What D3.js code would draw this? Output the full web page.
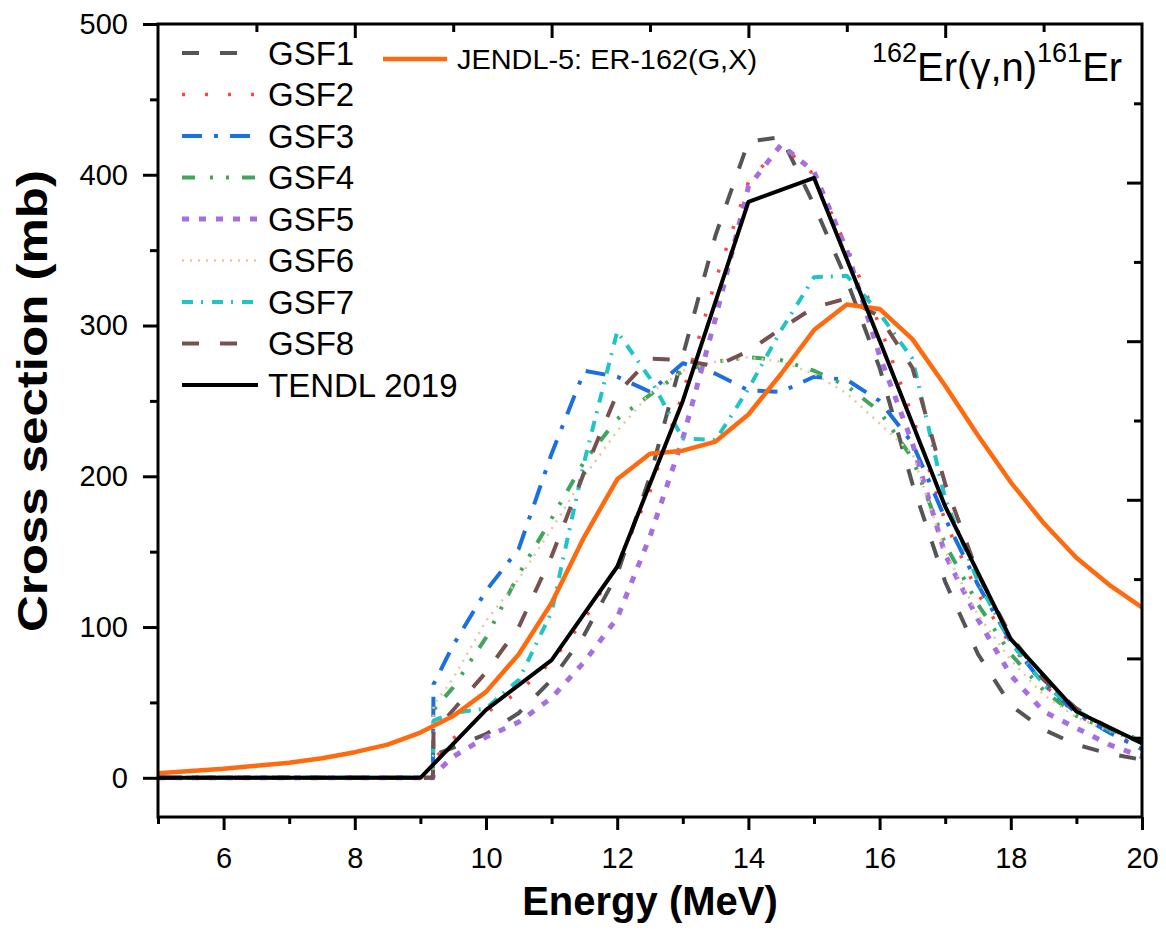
<!DOCTYPE html>
<html>
<head>
<meta charset="utf-8">
<script src="https://cdn.jsdelivr.net/npm/d3@7"></script>
<style>
  body { margin: 0; background: #fff; }
  svg { font-family: "Liberation Sans", Arial, sans-serif; }
  .axis path, .axis line { stroke: #000; stroke-width: 3; }
  .axis text { font-size: 29px; fill: #000; }
</style>
</head>
<body>
<svg id="chart" width="1166" height="930"></svg>
<script>
// energy grid shared by the GSF model curves (MeV)
var gsfE = [5, 9.19, 9.2, 9.5, 10, 10.5, 11, 11.5, 12, 12.5, 13, 13.5, 14, 14.5, 15, 15.5, 16, 16.5, 17, 17.5, 18, 18.5, 19, 19.5, 20];
var gsf1 = [0, 0, 15, 20, 29, 43, 65, 95, 135, 200, 280, 360, 422, 425, 380, 330, 272, 195, 130, 82, 48, 32, 22, 16, 12];
var gsf2 = [0, 0, 12, 26, 43, 57, 77, 105, 141, 190, 255, 330, 395, 420, 400, 352, 300, 240, 170, 122, 88, 62, 42, 30, 20];
var gsf3 = [0, 0, 62, 88, 124, 152, 215, 270, 266, 256, 275, 268, 257, 256, 266, 264, 250, 222, 172, 128, 90, 62, 43, 30, 19];
var gsf4 = [0, 0, 45, 60, 93, 135, 172, 210, 238, 254, 270, 276, 279, 277, 270, 260, 243, 212, 155, 115, 82, 58, 41, 32, 25];
var gsf5 = [0, 0, 2, 14, 27, 37, 53, 77, 106, 160, 225, 305, 392, 420, 402, 350, 280, 222, 148, 105, 68, 44, 33, 22, 14];
var gsf6 = [0, 0, 48, 66, 104, 132, 165, 200, 230, 255, 270, 276, 279, 276, 268, 255, 235, 215, 150, 108, 78, 55, 40, 31, 24];
var gsf7 = [0, 0, 38, 43, 46, 65, 110, 210, 296, 265, 225, 224, 258, 297, 332, 333, 308, 278, 185, 130, 90, 62, 45, 32, 23];
var gsf8 = [0, 0, 30, 45, 70, 100, 147, 203, 255, 278, 277, 273, 283, 298, 312, 318, 306, 272, 195, 135, 94, 65, 46, 33, 24];

var tendlE = [5, 9, 10, 11, 12, 13, 14, 15, 16, 17, 18, 19, 20];
var tendl = [0, 0, 45, 78, 140, 250, 382, 398, 290, 180, 92, 44, 23];

var jendlE = [5, 5.5, 6, 6.5, 7, 7.5, 8, 8.5, 9, 9.5, 10, 10.5, 11, 11.5, 12, 12.5, 13, 13.5, 14, 14.5, 15, 15.5, 16, 16.5, 17, 17.5, 18, 18.5, 19, 19.5, 20];
var jendl = [3, 4.5, 6, 8, 10, 13, 17, 22, 30, 41, 57, 82, 116, 160, 198, 215, 217, 223, 241, 268, 297, 314, 311, 291, 260, 227, 196, 169, 146, 128, 113];

var gsfNames = ["GSF1", "GSF2", "GSF3", "GSF4", "GSF5", "GSF6", "GSF7", "GSF8"];
var xTicks = [6, 8, 10, 12, 14, 16, 18, 20];
var yTicks = [0, 100, 200, 300, 400, 500];

// line styles (colour, width, dash) - kept apart from the data
var styles = {
  GSF1: {c: "#555555", w: 4, d: "17,21"},
  GSF2: {c: "#ff4242", w: 3.5, d: "3,20"},
  GSF3: {c: "#1b6fdf", w: 4, d: "20,12,4,12"},
  GSF4: {c: "#3ea75d", w: 4, d: "13,15,3,13,3,13"},
  GSF5: {c: "#a46fe3", w: 5, d: "7,10"},
  GSF6: {c: "#e9c79a", w: 2.5, d: "2,6"},
  GSF7: {c: "#20c4c4", w: 4, d: "11,8,2,9"},
  GSF8: {c: "#775050", w: 4, d: "17,21"},
  TENDL: {c: "#000000", w: 4, d: null},
  JENDL: {c: "#ff6a0e", w: 4.5, d: null}
};

var svg = d3.select("#chart");
var margin = {top: 24, right: 24, bottom: 113, left: 158},
    width = 1166 - margin.left - margin.right,
    height = 930 - margin.top - margin.bottom;

var x = d3.scaleLinear().domain([5, 20]).range([0, width]);
var y = d3.scaleLinear().domain([-26, 500]).range([height, 0]);

var g = svg.append("g").attr("transform", "translate(" + margin.left + "," + margin.top + ")");

g.append("defs").append("clipPath").attr("id", "clip")
  .append("rect").attr("width", width).attr("height", height);

function pts(xs, ys) { return xs.map(function(v, i) { return {x: v, y: ys[i]}; }); }

var series = [
  {name: "GSF1", data: pts(gsfE, gsf1)},
  {name: "GSF2", data: pts(gsfE, gsf2)},
  {name: "GSF3", data: pts(gsfE, gsf3)},
  {name: "GSF4", data: pts(gsfE, gsf4)},
  {name: "GSF5", data: pts(gsfE, gsf5)},
  {name: "GSF6", data: pts(gsfE, gsf6)},
  {name: "GSF7", data: pts(gsfE, gsf7)},
  {name: "GSF8", data: pts(gsfE, gsf8)},
  {name: "JENDL", data: pts(jendlE, jendl)},
  {name: "TENDL", data: pts(tendlE, tendl)}
];

var line = d3.line()
  .x(function(d) { return x(d.x); })
  .y(function(d) { return y(d.y); });

var plot = g.append("g").attr("clip-path", "url(#clip)");
series.forEach(function(s) {
  var st = styles[s.name];
  plot.append("path")
    .datum(s.data)
    .attr("d", line)
    .attr("fill", "none")
    .attr("stroke", st.c)
    .attr("stroke-width", st.w)
    .attr("stroke-dasharray", st.d)
    .attr("stroke-linejoin", "round");
});

// bottom axis: labelled majors + minors
g.append("g").attr("class", "axis")
  .attr("transform", "translate(0," + height + ")")
  .call(d3.axisBottom(x).tickValues(xTicks).tickSize(13).tickPadding(17).tickSizeOuter(0))
  .call(function(a) { a.select(".domain").remove(); });
g.append("g").attr("class", "axis")
  .attr("transform", "translate(0," + height + ")")
  .call(d3.axisBottom(x).tickValues(d3.range(5, 20, 2)).tickSize(7).tickFormat("").tickSizeOuter(0))
  .call(function(a) { a.select(".domain").remove(); });

// left axis
g.append("g").attr("class", "axis")
  .call(d3.axisLeft(y).tickValues(yTicks).tickSize(15).tickPadding(15).tickSizeOuter(0))
  .call(function(a) { a.select(".domain").remove(); });
g.append("g").attr("class", "axis")
  .call(d3.axisLeft(y).tickValues(d3.range(50, 500, 100)).tickSize(8).tickFormat("").tickSizeOuter(0))
  .call(function(a) { a.select(".domain").remove(); });

// top and right axes of the frame have their own 10-step ticks (inward, no labels)
var xt = d3.scaleLinear().domain([0, 10]).range([0, width]);
var yr = d3.scaleLinear().domain([0, 10]).range([height, 0]);
g.append("g").attr("class", "axis")
  .call(d3.axisBottom(xt).tickValues([2, 4, 6, 8]).tickSize(14).tickFormat("").tickSizeOuter(0))
  .call(function(a) { a.select(".domain").remove(); });
g.append("g").attr("class", "axis")
  .call(d3.axisBottom(xt).tickValues([1, 3, 5, 7, 9]).tickSize(8).tickFormat("").tickSizeOuter(0))
  .call(function(a) { a.select(".domain").remove(); });
g.append("g").attr("class", "axis")
  .attr("transform", "translate(" + width + ",0)")
  .call(d3.axisLeft(yr).tickValues([2, 4, 6, 8]).tickSize(15).tickFormat("").tickSizeOuter(0))
  .call(function(a) { a.select(".domain").remove(); });
g.append("g").attr("class", "axis")
  .attr("transform", "translate(" + width + ",0)")
  .call(d3.axisLeft(yr).tickValues([1, 3, 5, 7, 9]).tickSize(8).tickFormat("").tickSizeOuter(0))
  .call(function(a) { a.select(".domain").remove(); });

// frame
g.append("rect")
  .attr("width", width).attr("height", height)
  .attr("fill", "none").attr("stroke", "#000").attr("stroke-width", 3);

// axis titles
svg.append("text")
  .attr("x", margin.left + width / 2).attr("y", 915)
  .attr("text-anchor", "middle")
  .style("font-size", "40px").style("font-weight", "bold")
  .text("Energy (MeV)");
svg.append("text")
  .attr("transform", "translate(47,401) rotate(-90)")
  .attr("text-anchor", "middle")
  .attr("textLength", 462).attr("lengthAdjust", "spacingAndGlyphs")
  .style("font-size", "42px").style("font-weight", "bold")
  .text("Cross section (mb)");

// legend (GSF + TENDL column)
var legendItems = gsfNames.concat(["TENDL"]);
var legendLabels = gsfNames.concat(["TENDL 2019"]);
var leg = svg.append("g").attr("class", "legend");
legendItems.forEach(function(n, i) {
  var st = styles[n];
  var yy = 53 + i * 41.5;
  leg.append("line")
    .attr("x1", 182).attr("x2", 258).attr("y1", yy).attr("y2", yy)
    .attr("stroke", st.c).attr("stroke-width", st.w)
    .attr("stroke-dasharray", st.d);
  leg.append("text")
    .attr("x", 268).attr("y", yy + 11.5)
    .style("font-size", "33px")
    .text(legendLabels[i]);
});
leg.append("line")
  .attr("x1", 383).attr("x2", 447).attr("y1", 59).attr("y2", 59)
  .attr("stroke", styles.JENDL.c).attr("stroke-width", styles.JENDL.w);
leg.append("text")
  .attr("x", 457).attr("y", 69)
  .attr("textLength", 300).attr("lengthAdjust", "spacingAndGlyphs")
  .style("font-size", "27px")
  .text("JENDL-5: ER-162(G,X)");

// reaction label
var title = svg.append("text").attr("x", 872).attr("y", 81).style("font-size", "40px");
title.append("tspan").style("font-size", "27px").attr("dy", -19).text("162");
title.append("tspan").attr("dy", 19).text("Er(γ,n)");
title.append("tspan").style("font-size", "27px").attr("dy", -19).text("161");
title.append("tspan").attr("dy", 19).text("Er");
</script>
</body>
</html>
